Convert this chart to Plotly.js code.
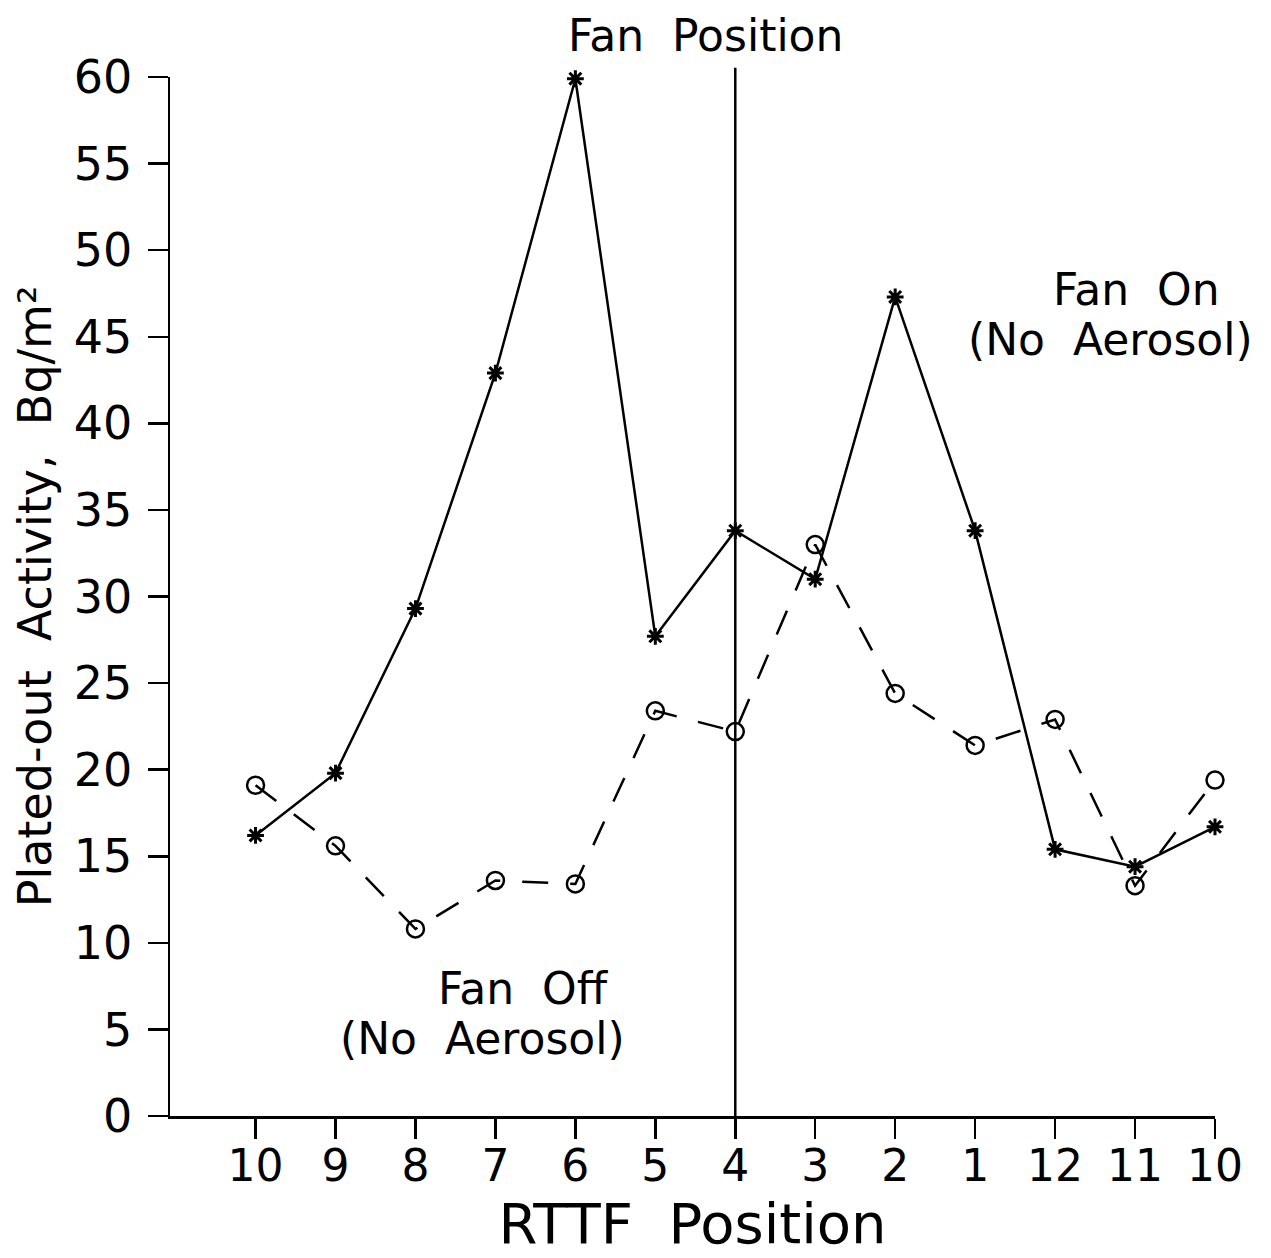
<!DOCTYPE html>
<html>
<head>
<meta charset="utf-8">
<script src="https://cdn.plot.ly/plotly-3.0.1.min.js"></script>
<style>html,body{margin:0;padding:0;background:#fff;}#chart{width:1271px;height:1258px;}</style>
</head>
<body>
<div id="chart"></div>
<script>
const positions = ["10","9","8","7","6","5","4","3","2","1","12","11","10"];
const fanOn = [16.2, 19.8, 29.3, 42.9, 59.9, 27.7, 33.8, 31.0, 47.3, 33.8, 15.4, 14.4, 16.7];
const fanOff = [19.1, 15.6, 10.8, 13.6, 13.4, 23.4, 22.2, 33.0, 24.4, 21.4, 22.9, 13.3, 19.4];
const fanPositionIndex = 6;

const idx = positions.map((_, i) => i);
const FONT = "DejaVu Sans, Liberation Sans, sans-serif";

const traces = [
  {
    x: idx, y: fanOn, type: "scatter", mode: "lines+markers", name: "Fan On",
    line: {color: "#000", width: 2.5},
    marker: {symbol: "asterisk-open", size: 14, color: "#000", line: {color: "#000", width: 3}},
    cliponaxis: false
  },
  {
    x: idx, y: fanOff, type: "scatter", mode: "lines+markers", name: "Fan Off",
    line: {color: "#000", width: 2.5, dash: "26px,22px"},
    marker: {symbol: "circle-open", size: 17, color: "#000", line: {color: "#000", width: 2.5}},
    cliponaxis: false
  }
];

const layout = {
  width: 1271, height: 1258,
  margin: {l: 170, r: 56, t: 77, b: 142},
  paper_bgcolor: "#fff", plot_bgcolor: "#fff",
  showlegend: false,
  font: {family: FONT, color: "#000"},
  xaxis: {
    range: [-1.07, 12],
    tickmode: "array", tickvals: idx, ticktext: positions,
    ticks: "outside", ticklen: 20, tickwidth: 2.5, tickcolor: "#000",
    showline: true, linecolor: "#000", linewidth: 2.5,
    showgrid: false, zeroline: false,
    ticklabelstandoff: -10,
    tickfont: {size: 44, family: FONT},
    title: {text: "RTTF  Position", font: {size: 56, family: FONT}, standoff: 2}
  },
  yaxis: {
    range: [0, 60],
    tickmode: "linear", tick0: 0, dtick: 5,
    ticks: "outside", ticklen: 20, tickwidth: 2.5, tickcolor: "#000",
    showline: true, linecolor: "#000", linewidth: 2.5,
    showgrid: false, zeroline: false,
    ticklabelstandoff: 6,
    tickfont: {size: 46, family: FONT},
    title: {text: "Plated-out  Activity,  Bq/m²", font: {size: 46, family: FONT}, standoff: 8}
  },
  shapes: [
    {type: "line", xref: "x", yref: "paper", x0: fanPositionIndex, x1: fanPositionIndex, y0: 0, y1: 1.009,
     line: {color: "#000", width: 2.5}}
  ],
  annotations: [
    {text: "Fan  Position", xref: "paper", yref: "paper", x: 0.512, y: 1.04, xanchor: "center", yanchor: "middle",
     showarrow: false, font: {size: 44, family: FONT}},
    {text: "Fan  On", xref: "paper", yref: "paper", x: 1.007, y: 0.795, xanchor: "right", yanchor: "middle",
     showarrow: false, font: {size: 44, family: FONT}},
    {text: "(No  Aerosol)", xref: "paper", yref: "paper", x: 1.038, y: 0.747, xanchor: "right", yanchor: "middle",
     showarrow: false, font: {size: 44, family: FONT}},
    {text: "Fan  Off", xref: "paper", yref: "paper", x: 0.338, y: 0.123, xanchor: "center", yanchor: "middle",
     showarrow: false, font: {size: 44, family: FONT}},
    {text: "(No  Aerosol)", xref: "paper", yref: "paper", x: 0.2986, y: 0.075, xanchor: "center", yanchor: "middle",
     showarrow: false, font: {size: 44, family: FONT}}
  ]
};

Plotly.newPlot("chart", traces, layout, {staticPlot: true, displayModeBar: false});
</script>
</body>
</html>
